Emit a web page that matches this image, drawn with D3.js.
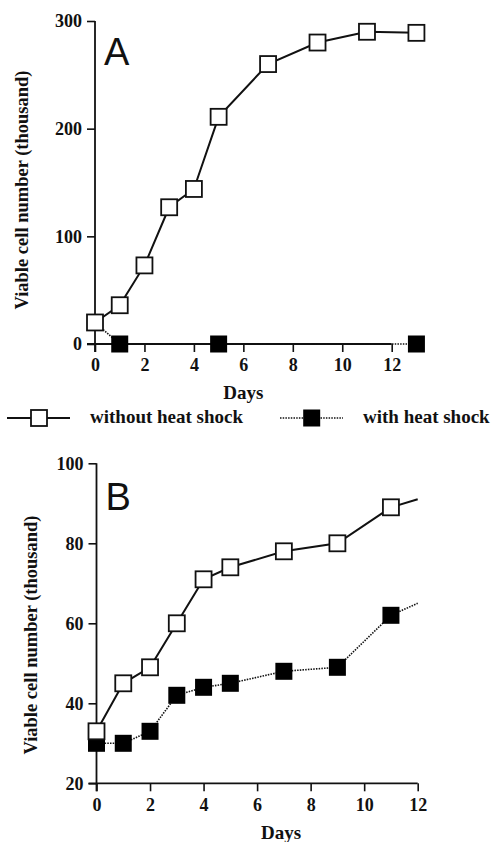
<!DOCTYPE html>
<html>
<head>
<meta charset="utf-8">
<script src="https://cdn.jsdelivr.net/npm/d3@7"></script>
<style>
  body { margin: 0; background: #fff; }
  svg { display: block; }
  .tick text, .lab { font-family: "Liberation Serif", "Times New Roman", serif; font-weight: bold; }
  .panel { font-family: "Liberation Sans", Arial, sans-serif; }
</style>
</head>
<body>
<div id="chart"></div>
<script>
// ---- data ----
// panel A
var daysA = [0, 1, 2, 3, 4, 5, 7, 9, 11, 13];
var withoutA = [20, 36, 73, 127, 144, 211, 260, 280, 290, 289];
var daysHeatA = [0, 1, 5, 13];
var withHeatA = [20, 0, 0, 0];
var heatMarkA = [false, true, true, true];   // day 0 hidden under the open square

// panel B (last point of each series is the line end at day 12, no marker)
var daysB = [0, 1, 2, 3, 4, 5, 7, 9, 11, 12];
var withoutB = [33, 45, 49, 60, 71, 74, 78, 80, 89, 91];
var withHeatB = [30, 30, 33, 42, 44, 45, 48, 49, 62, 65];

var ticksA_y = [0, 100, 200, 300];
var ticksB_y = [20, 40, 60, 80, 100];
var ticksX = [0, 2, 4, 6, 8, 10, 12];

var yTitle = "Viable cell number (thousand)";
var xTitle = "Days";
var legendLabels = ["without heat shock", "with heat shock"];

var W = 492, H = 842;
var svg = d3.select("#chart").append("svg").attr("width", W).attr("height", H);

var MS = 17; // marker size

function drawPanel(opt) {
  var x = d3.scaleLinear().domain([0, 12]).range([opt.x0, opt.x1]);
  var y = d3.scaleLinear().domain(opt.ydom).range([opt.y0, opt.y1]);
  var g = svg.append("g");

  var xAxis = g.append("g").attr("transform", "translate(0," + opt.y0 + ")")
    .call(d3.axisBottom(x).tickValues(ticksX).tickSize(8).tickPadding(4));
  var yAxis = g.append("g").attr("transform", "translate(" + opt.x0 + ",0)")
    .call(d3.axisLeft(y).tickValues(opt.yticks).tickSize(8).tickPadding(5));
  [xAxis, yAxis].forEach(function (a) {
    a.select(".domain").remove();
    a.selectAll(".tick line").attr("stroke", "#111").attr("stroke-width", 1.6);
    a.selectAll(".tick text").attr("fill", "#111").style("font-size", "18px");
  });
  xAxis.selectAll(".tick text").attr("dy", "0.85em");
  // axis lines
  g.append("line").attr("x1", opt.x0 - 8).attr("x2", x(12)).attr("y1", opt.y0).attr("y2", opt.y0)
    .attr("stroke", "#111").attr("stroke-width", 1.8);
  g.append("line").attr("x1", opt.x0).attr("x2", opt.x0).attr("y1", y(opt.ydom[1])).attr("y2", opt.y0 + 8)
    .attr("stroke", "#111").attr("stroke-width", 1.8);

  // titles
  g.append("text").attr("class", "lab").attr("x", (opt.x0 + x(12)) / 2 + opt.xtdx).attr("y", opt.xty)
    .attr("text-anchor", "middle").style("font-size", "19px").attr("fill", "#111").text(xTitle);
  g.append("text").attr("class", "lab")
    .attr("transform", "translate(" + opt.ytx + "," + opt.ytc + ") rotate(-90)")
    .attr("text-anchor", "middle").attr("dy", "0.35em").style("font-size", "18.5px").attr("fill", "#111").text(yTitle);
  g.append("text").attr("class", "panel").attr("x", opt.x0 + 9).attr("y", opt.lety)
    .style("font-size", "38px").attr("fill", "#111").text(opt.letter);

  // series
  var line = d3.line().x(function (d) { return x(d[0]); }).y(function (d) { return y(d[1]); });
  var heat = d3.zip(opt.hdays, opt.hvals);
  var open = d3.zip(opt.odays, opt.ovals);
  g.append("path").datum(heat).attr("d", line).attr("fill", "none").attr("stroke", "#111")
    .attr("stroke-width", 1.6).attr("stroke-dasharray", "1.5,1.2");
  g.append("path").datum(open).attr("d", line).attr("fill", "none").attr("stroke", "#111")
    .attr("stroke-width", 2);
  g.selectAll(".hm").data(heat.filter(function (d, i) { return opt.hmark[i]; })).enter().append("rect")
    .attr("x", function (d) { return x(d[0]) - MS / 2; }).attr("y", function (d) { return y(d[1]) - MS / 2; })
    .attr("width", MS).attr("height", MS).attr("fill", "#000");
  g.selectAll(".om").data(open.filter(function (d, i) { return opt.omark[i]; })).enter().append("rect")
    .attr("x", function (d) { return x(d[0]) - MS / 2 + 0.5; }).attr("y", function (d) { return y(d[1]) - MS / 2 + 0.5; })
    .attr("width", MS - 1).attr("height", MS - 1).attr("fill", "#fff").attr("stroke", "#111").attr("stroke-width", 1.8);
}

drawPanel({
  x0: 95, x1: 391.7, y0: 344, y1: 21, ydom: [0, 300], yticks: ticksA_y,
  odays: daysA, ovals: withoutA, omark: daysA.map(function () { return true; }),
  hdays: daysHeatA, hvals: withHeatA, hmark: heatMarkA,
  xty: 399, xtdx: 0, ytx: 22, ytc: 190, letter: "A", lety: 65
});
drawPanel({
  x0: 96.5, x1: 417.7, y0: 783.3, y1: 463.3, ydom: [20, 100], yticks: ticksB_y,
  odays: daysB, ovals: withoutB, omark: daysB.map(function (d, i) { return i < daysB.length - 1; }),
  hdays: daysB, hvals: withHeatB, hmark: daysB.map(function (d, i) { return i < daysB.length - 1; }),
  xty: 839, xtdx: 24, ytx: 31, ytc: 635, letter: "B", lety: 510
});

// legend
var leg = svg.append("g");
var ly = 418;
leg.append("line").attr("x1", 7).attr("x2", 70).attr("y1", ly).attr("y2", ly).attr("stroke", "#111").attr("stroke-width", 2);
leg.append("rect").attr("x", 39 - MS / 2 + 0.5).attr("y", ly - MS / 2 + 0.5).attr("width", MS - 1).attr("height", MS - 1)
  .attr("fill", "#fff").attr("stroke", "#111").attr("stroke-width", 1.8);
leg.append("text").attr("class", "lab").attr("x", 90).attr("y", ly + 5).style("font-size", "19px").attr("fill", "#111").text(legendLabels[0]);
leg.append("line").attr("x1", 280).attr("x2", 343).attr("y1", ly).attr("y2", ly).attr("stroke", "#111")
  .attr("stroke-width", 1.6).attr("stroke-dasharray", "1.5,1.2");
leg.append("rect").attr("x", 311.7 - MS / 2).attr("y", ly - MS / 2).attr("width", MS).attr("height", MS).attr("fill", "#000");
leg.append("text").attr("class", "lab").attr("x", 363).attr("y", ly + 5).style("font-size", "19px").attr("fill", "#111").text(legendLabels[1]);
</script>
</body>
</html>
